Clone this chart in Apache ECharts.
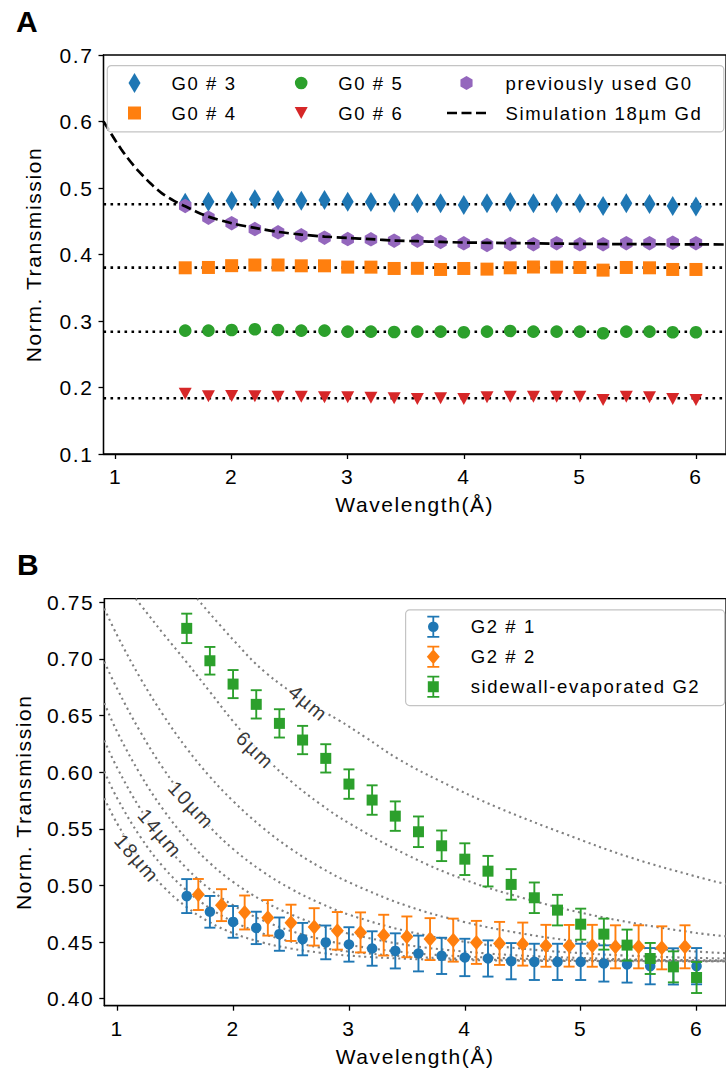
<!DOCTYPE html>
<html><head><meta charset="utf-8">
<script src="https://cdn.jsdelivr.net/npm/echarts@6/dist/echarts.min.js"></script>
<style>
html,body{margin:0;padding:0;background:#fff}
#c{width:726px;height:1076px}
#c text{letter-spacing:1.6px}
</style>
</head><body><div id="c"></div>
<script>
// ---------- Panel A data ----------
const xA = [1.6,1.8,2.0,2.2,2.4,2.6,2.8,3.0,3.2,3.4,3.6,3.8,4.0,4.2,4.4,4.6,4.8,5.0,5.2,5.4,5.6,5.8,6.0];
const g0_3 = [0.478,0.4795,0.481,0.483,0.482,0.481,0.482,0.4795,0.479,0.478,0.477,0.477,0.4745,0.477,0.479,0.477,0.477,0.477,0.473,0.477,0.476,0.473,0.472];
const g0_4 = [0.380,0.3805,0.3832,0.3842,0.3842,0.383,0.383,0.381,0.381,0.379,0.3792,0.3775,0.379,0.378,0.380,0.3812,0.381,0.3805,0.3765,0.3805,0.380,0.3775,0.3775];
const g0_5 = [0.2855,0.2855,0.2865,0.2875,0.2865,0.2855,0.2855,0.284,0.284,0.2835,0.284,0.284,0.283,0.284,0.285,0.284,0.284,0.284,0.2815,0.284,0.284,0.283,0.283];
const g0_6 = [0.1907,0.1867,0.1872,0.1867,0.1862,0.1862,0.1852,0.1852,0.1847,0.1837,0.1827,0.1837,0.1827,0.1852,0.1862,0.1862,0.1862,0.1862,0.1812,0.1862,0.1852,0.1827,0.1812];
const prevG0 = [0.473,0.4553,0.447,0.4383,0.4333,0.4289,0.4253,0.4233,0.4229,0.4208,0.4208,0.4188,0.4168,0.4143,0.4158,0.4155,0.417,0.4153,0.4155,0.417,0.417,0.4178,0.417];
const fitLevels = [0.4755,0.3802,0.2839,0.1838];
const simX = [0.896,0.95,1.0,1.05,1.1,1.15,1.2,1.3,1.4,1.5,1.6,1.7,1.8,2.0,2.2,2.4,2.6,2.8,3.0,3.2,3.4,3.6,3.8,4.0,4.5,5.0,5.5,6.0,6.26];
const simY = [0.600,0.585,0.571,0.558,0.546,0.535,0.525,0.507,0.492,0.481,0.4725,0.464,0.457,0.447,0.440,0.434,0.430,0.427,0.425,0.423,0.421,0.420,0.419,0.418,0.417,0.416,0.4155,0.4153,0.415];
const ticksA_x = [1,2,3,4,5,6];
const ticksA_y = [0.1,0.2,0.3,0.4,0.5,0.6,0.7];

// ---------- Panel B data ----------
const xB1 = [1.6,1.8,2.0,2.2,2.4,2.6,2.8,3.0,3.2,3.4,3.6,3.8,4.0,4.2,4.4,4.6,4.8,5.0,5.2,5.4,5.6,5.8,6.0];
const xB2 = [1.7,1.9,2.1,2.3,2.5,2.7,2.9,3.1,3.3,3.5,3.7,3.9,4.1,4.3,4.5,4.7,4.9,5.1,5.3,5.5,5.7,5.9];
const g2_1 = [0.4906,0.4767,0.4678,0.4625,0.457,0.4526,0.4497,0.4479,0.4443,0.4422,0.4399,0.4378,0.4364,0.4355,0.4331,0.4325,0.4325,0.4325,0.4311,0.4302,0.4287,0.4285,0.4287];
const g2_1err = [0.015,0.014,0.014,0.0143,0.0147,0.0143,0.0149,0.0152,0.0152,0.0155,0.0158,0.016,0.0165,0.016,0.016,0.016,0.016,0.016,0.016,0.016,0.016,0.016,0.016];
const g2_2 = [0.492,0.4826,0.4761,0.4714,0.467,0.4634,0.4599,0.4585,0.4561,0.4546,0.4526,0.4517,0.4497,0.4488,0.4482,0.4467,0.4467,0.4467,0.4458,0.4458,0.4449,0.4458];
const g2_2err = [0.0137,0.0141,0.015,0.0157,0.016,0.0165,0.0166,0.0177,0.018,0.018,0.0185,0.019,0.019,0.019,0.019,0.0185,0.0184,0.0185,0.019,0.019,0.019,0.019];
const sidewall = [0.727,0.6984,0.6778,0.6599,0.6431,0.6284,0.6122,0.5895,0.5754,0.5612,0.5474,0.535,0.5232,0.5126,0.5009,0.4891,0.4782,0.4658,0.457,0.4473,0.4355,0.4281,0.4187];
const sidewallErr = [0.013,0.0122,0.0124,0.0125,0.0125,0.0125,0.0125,0.013,0.013,0.013,0.0135,0.0135,0.014,0.0135,0.0135,0.0135,0.0135,0.0137,0.0137,0.0137,0.0137,0.0137,0.0137];
// simulated absorber-thickness curves
const c4x = [1.69,2.0,2.28,2.65,2.91,3.14,3.42,3.79,4.28,4.85,5.42,5.99,6.26];
const c4y = [0.7532,0.717,0.688,0.661,0.646,0.631,0.612,0.592,0.569,0.546,0.525,0.508,0.501];
const c6x = [1.16,1.2,1.4,1.6,1.8,2.0,2.25,2.5,2.75,3.0,3.5,4.0,4.5,5.0,5.5,6.0,6.26];
const c6y = [0.7532,0.748,0.722,0.697,0.671,0.645,0.616,0.592,0.572,0.555,0.527,0.505,0.489,0.476,0.466,0.458,0.455];
const cLx = [0.889,1.0,1.2,1.4,1.6,1.8,2.0,2.25,2.5,2.75,3.0,3.5,4.0,4.5,5.0,5.5,6.0,6.26];
const c8y  = [0.7445,0.7208,0.683,0.650,0.621,0.596,0.5745,0.5515,0.5322,0.5162,0.5028,0.482,0.4676,0.4574,0.4502,0.4451,0.4416,0.4401];
const c10y = [0.6975,0.6736,0.6356,0.6028,0.575,0.5516,0.5322,0.5126,0.497,0.4844,0.4742,0.4596,0.4502,0.4441,0.4402,0.4376,0.436,0.4354];
const c12y = [0.661,0.6356,0.598,0.5666,0.5409,0.5198,0.5031,0.4868,0.4744,0.4648,0.4574,0.4474,0.4416,0.438,0.436,0.4345,0.434,0.4339];
const c14y = [0.628,0.6038,0.5676,0.5382,0.515,0.4967,0.4825,0.4694,0.4598,0.4527,0.4474,0.4408,0.4373,0.4353,0.4343,0.4338,0.4333,0.4332];
const c16y = [0.6006,0.577,0.5429,0.516,0.4955,0.4798,0.4681,0.4577,0.4504,0.4452,0.4416,0.4373,0.4351,0.434,0.4335,0.4333,0.4331,0.4331];
const c18y = [0.577,0.5546,0.5228,0.4987,0.4808,0.4674,0.4579,0.4497,0.4443,0.4406,0.438,0.4352,0.4341,0.4335,0.4332,0.4331,0.4331,0.4331];
const curveLabelText = ['4µm','6µm','10µm','14µm','18µm'];
const curveLabelX = [2.65,2.19,1.64,1.37,1.17];
const curveLabelY = [0.661,0.6195,0.571,0.546,0.524];
const curveLabelAngle = [-40,-44,-47,-50,-49];
const ticksB_x = [1,2,3,4,5,6];
const ticksB_y = [0.40,0.45,0.50,0.55,0.60,0.65,0.70,0.75];

// ---------- styling ----------
const FONT = '"Liberation Sans", Arial, sans-serif';
const C = {blue:'#1f77b4', orange:'#ff7f0e', green:'#2ca02c', red:'#d62728', purple:'#9467bd', gray:'#808080'};
const zip = (xs, ys) => xs.map((x, i) => [x, ys[i]]);
const hexPath = 'path://M0,-7 L6.06,-3.5 L6.06,3.5 L0,7 L-6.06,3.5 L-6.06,-3.5 Z';
const PAD = 'M0,-10 M0,10 ';
const icons = {
  diamond: 'path://M0,-10 L6,0 L0,10 L-6,0 Z',
  square: 'path://' + PAD + 'M-6.5,-6.5 L6.5,-6.5 L6.5,6.5 L-6.5,6.5 Z',
  circle: 'path://' + PAD + 'M-6.3,0 A6.3,6.3 0 1,1 6.3,0 A6.3,6.3 0 1,1 -6.3,0 Z',
  tri: 'path://' + PAD + 'M-6.5,-6 L6.5,-6 L0,6 Z',
  hex: 'path://' + PAD + 'M0,-7 L6.06,-3.5 L6.06,3.5 L0,7 L-6.06,3.5 L-6.06,-3.5 Z',
  dash: 'path://' + PAD + 'M-19.5,-1.35 L-9.5,-1.35 L-9.5,1.35 L-19.5,1.35 Z M-5,-1.35 L5,-1.35 L5,1.35 L-5,1.35 Z M9.5,-1.35 L19.5,-1.35 L19.5,1.35 L9.5,1.35 Z'
};
const EB = 'M-6,-11 L6,-11 L6,-9.2 L-6,-9.2 Z M-0.9,-11 L0.9,-11 L0.9,11 L-0.9,11 Z M-6,9.2 L6,9.2 L6,11 L-6,11 Z ';
const iconsB = {
  circ: 'path://' + EB + 'M-5.3,0 A5.3,5.3 0 1,1 5.3,0 A5.3,5.3 0 1,1 -5.3,0 Z',
  dia: 'path://' + EB + 'M0,-7.5 L6.5,0 L0,7.5 L-6.5,0 Z',
  sq: 'path://' + EB + 'M-5.5,-5.5 L5.5,-5.5 L5.5,5.5 L-5.5,5.5 Z'
};

const axisCommon = {
  axisLine: {show: true, lineStyle: {color: '#000', width: 1.3}},
  axisTick: {show: true, length: 5, lineStyle: {color: '#000', width: 1.3}},
  splitLine: {show: false},
  nameTextStyle: {fontSize: 21, color: '#000', fontFamily: FONT},
};

function xAxisOf(grid, min, max, ticks) {
  return Object.assign({}, axisCommon, {
    type: 'value', gridIndex: grid, min: min, max: max,
    axisTick: Object.assign({}, axisCommon.axisTick, {customValues: ticks}),
    axisLabel: {customValues: ticks, fontSize: 21, color: '#000', margin: 12, fontFamily: FONT, formatter: v => String(Math.round(v))},
    name: 'Wavelength(Å)', nameLocation: 'middle', nameGap: 40
  });
}
function yAxisOf(grid, min, max, ticks, dec, gap) {
  return Object.assign({}, axisCommon, {
    type: 'value', gridIndex: grid, min: min, max: max,
    axisTick: Object.assign({}, axisCommon.axisTick, {customValues: ticks}),
    axisLabel: {customValues: ticks, fontSize: 21, color: '#000', margin: 10, fontFamily: FONT, formatter: v => v.toFixed(dec)},
    name: 'Norm. Transmission', nameLocation: 'middle', nameGap: gap
  });
}

function errSeries(name, xs, ys, es, color, z) {
  return {
    type: 'custom', name: name + ' err', xAxisIndex: 1, yAxisIndex: 1, z: z,
    data: xs.map((x, i) => [x, ys[i] - es[i], ys[i] + es[i]]),
    renderItem: function (params, api) {
      const x = api.value(0);
      const p1 = api.coord([x, api.value(2)]);
      const p2 = api.coord([x, api.value(1)]);
      const hw = 5.5;
      const st = {stroke: color, lineWidth: 1.9};
      return {type: 'group', children: [
        {type: 'line', shape: {x1: p1[0], y1: p1[1], x2: p2[0], y2: p2[1]}, style: st},
        {type: 'line', shape: {x1: p1[0] - hw, y1: p1[1], x2: p1[0] + hw, y2: p1[1]}, style: st},
        {type: 'line', shape: {x1: p2[0] - hw, y1: p2[1], x2: p2[0] + hw, y2: p2[1]}, style: st}
      ]};
    },
    silent: true
  };
}

const dotted = {color: '#000', width: 2.6, type: [2.6, 4.4], cap: 'butt'};
const grayDot = {color: C.gray, width: 2.1, type: [2.1, 3.6], cap: 'butt'};

const series = [];
fitLevels.forEach((f, i) => series.push({
  type: 'line', name: 'fit' + i, xAxisIndex: 0, yAxisIndex: 0, data: [[0.896, f], [6.26, f]],
  symbol: 'none', lineStyle: dotted, z: 1, silent: true
}));
series.push(
  {type: 'scatter', name: 'G0 # 3', xAxisIndex: 0, yAxisIndex: 0, data: zip(xA, g0_3), symbol: 'diamond', symbolSize: [12, 20], itemStyle: {color: C.blue, opacity: 1}, z: 3},
  {type: 'scatter', name: 'G0 # 4', xAxisIndex: 0, yAxisIndex: 0, data: zip(xA, g0_4), symbol: 'rect', symbolSize: [13, 13], itemStyle: {color: C.orange, opacity: 1}, z: 3},
  {type: 'scatter', name: 'G0 # 5', xAxisIndex: 0, yAxisIndex: 0, data: zip(xA, g0_5), symbol: 'circle', symbolSize: 12.6, itemStyle: {color: C.green, opacity: 1}, z: 3},
  {type: 'scatter', name: 'G0 # 6', xAxisIndex: 0, yAxisIndex: 0, data: zip(xA, g0_6), symbol: 'triangle', symbolRotate: 180, symbolSize: [13, 12], itemStyle: {color: C.red, opacity: 1}, z: 3},
  {type: 'scatter', name: 'previously used G0', xAxisIndex: 0, yAxisIndex: 0, data: zip(xA, prevG0), symbol: hexPath, symbolSize: [12.5, 14.5], itemStyle: {color: C.purple, opacity: 1}, z: 4},
  {type: 'line', name: 'Simulation 18µm Gd', xAxisIndex: 0, yAxisIndex: 0, data: zip(simX, simY), symbol: 'none', smooth: 0.3,
    lineStyle: {color: '#000', width: 2.7, type: [10, 4.5], cap: 'butt'}, itemStyle: {color: '#000'}, z: 5}
);
// Panel B curves
[[c4x, c4y], [c6x, c6y], [cLx, c8y], [cLx, c10y], [cLx, c12y], [cLx, c14y], [cLx, c16y], [cLx, c18y]].forEach((c, i) => series.push({
  type: 'line', name: 'curve' + i, xAxisIndex: 1, yAxisIndex: 1, data: zip(c[0], c[1]), symbol: 'none', smooth: 0.4,
  lineStyle: grayDot, z: 1, silent: true
}));
series.push({
  type: 'scatter', name: 'curve labels', xAxisIndex: 1, yAxisIndex: 1, symbolSize: 0, z: 2, silent: true,
  data: curveLabelText.map((t, i) => ({value: [curveLabelX[i], curveLabelY[i]],
    label: {show: true, position: 'inside', formatter: t, rotate: curveLabelAngle[i], fontSize: 20, color: '#000',
      fontFamily: FONT, backgroundColor: '#fff', padding: [0, 2]}}))
});
series.push(
  errSeries('G2 # 1', xB1, g2_1, g2_1err, C.blue, 3),
  {type: 'scatter', name: 'G2 # 1', xAxisIndex: 1, yAxisIndex: 1, data: zip(xB1, g2_1), symbol: 'circle', symbolSize: 10.5, itemStyle: {color: C.blue, opacity: 1}, z: 4},
  errSeries('G2 # 2', xB2, g2_2, g2_2err, C.orange, 5),
  {type: 'scatter', name: 'G2 # 2', xAxisIndex: 1, yAxisIndex: 1, data: zip(xB2, g2_2), symbol: 'diamond', symbolSize: [13, 15], itemStyle: {color: C.orange, opacity: 1}, z: 6},
  errSeries('sidewall', xB1, sidewall, sidewallErr, C.green, 7),
  {type: 'scatter', name: 'sidewall-evaporated G2', xAxisIndex: 1, yAxisIndex: 1, data: zip(xB1, sidewall), symbol: 'rect', symbolSize: [11, 11], itemStyle: {color: C.green, opacity: 1}, z: 8}
);

const legTxt = {fontSize: 18.5, color: '#000', fontFamily: FONT};
const legBase = {orient: 'vertical', itemHeight: 20, itemGap: 10, padding: 0, textStyle: legTxt, selectedMode: false, z: 10};

const option = {
  animation: false,
  backgroundColor: '#fff',
  textStyle: {fontFamily: FONT},
  grid: [
    {left: 103.5, top: 55, width: 627.5, height: 399, show: true, borderColor: '#000', borderWidth: 1.3},
    {left: 104.3, top: 598.7, width: 626.7, height: 407, show: true, borderColor: '#000', borderWidth: 1.3}
  ],
  xAxis: [xAxisOf(0, 0.896, 6.259, ticksA_x), xAxisOf(1, 0.8887, 6.254, ticksB_x)],
  yAxis: [yAxisOf(0, 0.1, 0.7, ticksA_y, 1, 60), yAxisOf(1, 0.3938, 0.7532, ticksB_y, 2, 70)],
  legend: [
    Object.assign({}, legBase, {left: 128, top: 73, itemWidth: 64, data: [{name: 'G0 # 3', icon: icons.diamond}, {name: 'G0 # 4', icon: icons.square}]}),
    Object.assign({}, legBase, {left: 294.7, top: 73, itemWidth: 64, data: [{name: 'G0 # 5', icon: icons.circle}, {name: 'G0 # 6', icon: icons.tri}]}),
    Object.assign({}, legBase, {left: 447, top: 73, itemWidth: 68, data: [{name: 'previously used G0', icon: icons.hex}, {name: 'Simulation 18µm Gd', icon: icons.dash}]}),
    Object.assign({}, legBase, {left: 426.8, top: 615.7, itemWidth: 64.8, itemHeight: 22, itemGap: 8, data: [{name: 'G2 # 1', icon: iconsB.circ}, {name: 'G2 # 2', icon: iconsB.dia}, {name: 'sidewall-evaporated G2', icon: iconsB.sq}]})
  ],
  graphic: [
    {type: 'rect', left: 106.7, top: 65, shape: {width: 616.5, height: 66.3, r: 4}, style: {fill: 'rgba(255,255,255,0.8)', stroke: '#c4c4c4', lineWidth: 1.2}, z: 9},
    {type: 'rect', left: 405, top: 609.3, shape: {width: 319, height: 95.7, r: 4}, style: {fill: 'rgba(255,255,255,0.8)', stroke: '#c4c4c4', lineWidth: 1.2}, z: 9},
    {type: 'text', left: 16, top: 6, style: {text: 'A', fontSize: 30, fontWeight: 'bold', fill: '#000', fontFamily: FONT}, z: 10},
    {type: 'text', left: 17, top: 549, style: {text: 'B', fontSize: 30, fontWeight: 'bold', fill: '#000', fontFamily: FONT}, z: 10}
  ],
  series: series
};

const chart = echarts.init(document.getElementById('c'), null, {renderer: 'svg', width: 726, height: 1076});
chart.setOption(option);
</script>
</body></html>
